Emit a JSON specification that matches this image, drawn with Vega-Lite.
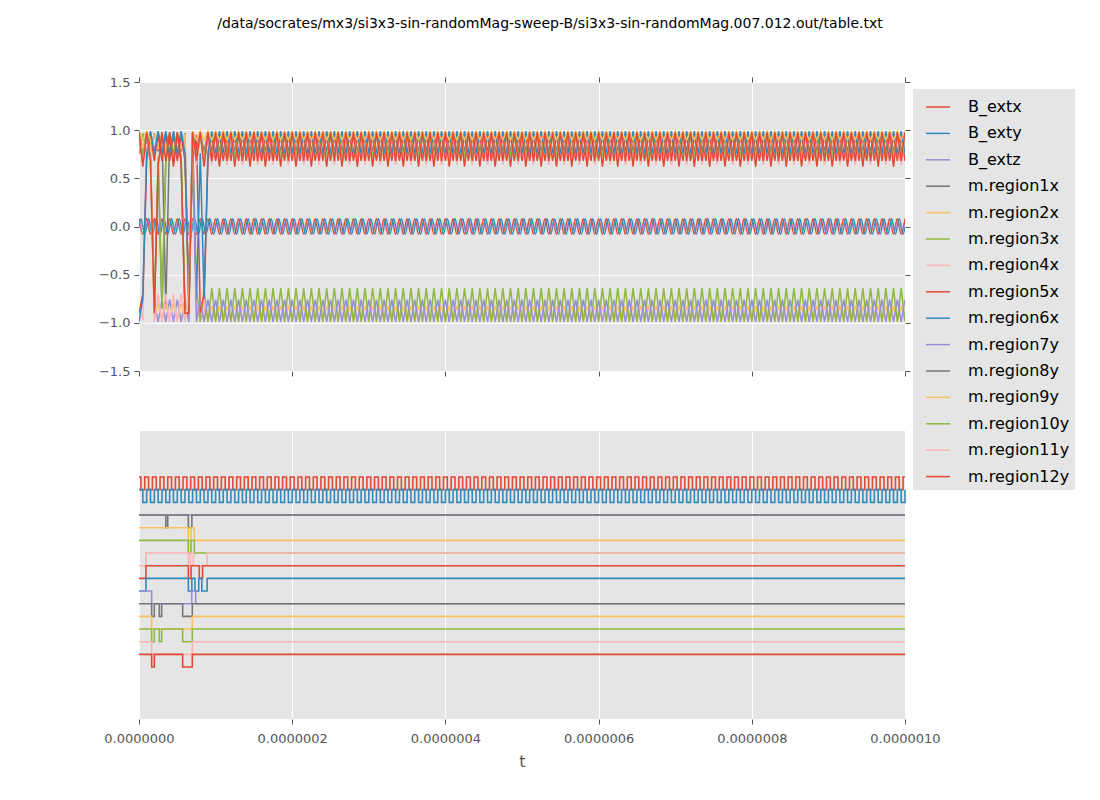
{
"$schema": "https://vega.github.io/schema/vega-lite/v6.json",
"padding": {"left": 98, "top": 17, "right": 5, "bottom": 5},
"background": "white",
"title": {"text": "/data/socrates/mx3/si3x3-sin-randomMag-sweep-B/si3x3-sin-randomMag.007.012.out/table.txt", "anchor": "middle", "frame": "group", "dx": 28, "offset": 45, "fontSize": 14, "font": "DejaVu Sans", "fontWeight": "normal", "color": "black"},
"config": {
 "font": "DejaVu Sans",
 "view": {"fill": "#E5E5E5", "stroke": null},
 "axis": {"domain": false, "tickColor": "#555555", "tickSize": 5, "tickWidth": 1, "labelColor": "#555555", "labelFontSize": 13, "labelFont": "DejaVu Sans", "labelPadding": 4, "labelFlush": false, "gridColor": "#FFFFFF", "gridWidth": 1, "titleFont": "DejaVu Sans", "titleFontSize": 16, "titleFontWeight": "normal", "titleColor": "#555555"},
 "legend": {"title": null, "orient": "none", "legendX": 774, "legendY": 7, "fillColor": "#E5E5E5", "padding": 5, "symbolType": "stroke", "symbolSize": 576, "symbolStrokeWidth": 1.5, "labelFontSize": 16, "labelFont": "DejaVu Sans", "labelColor": "black", "labelOffset": 17, "rowPadding": 5.4, "symbolOffset": 7}
},
"datasets": {
"topB": [
{"s": "B_extx", "t": [0,5,10,15,20,25,30,35,40,45,50,55,60,65,70,75,80,85,90,95,
100,105,110,115,120,125,130,135,140,145,150,155,160,165,170,175,180,185,190,195,
200,205,210,215,220,225,230,235,240,245,250,255,260,265,270,275,280,285,290,295,
300,305,310,315,320,325,330,335,340,345,350,355,360,365,370,375,380,385,390,395,
400,405,410,415,420,425,430,435,440,445,450,455,460,465,470,475,480,485,490,495,
500,505,510,515,520,525,530,535,540,545,550,555,560,565,570,575,580,585,590,595,
600,605,610,615,620,625,630,635,640,645,650,655,660,665,670,675,680,685,690,695,
700,705,710,715,720,725,730,735,740,745,750,755,760,765,770,775,780,785,790,795,
800,805,810,815,820,825,830,835,840,845,850,855,860,865,870,875,880,885,890,895,
900,905,910,915,920,925,930,935,940,945,950,955,960,965,970,975,980,985,990,995,
1000],
"v": [0.08,-0.08,0.08,-0.08,0.08,-0.08,0.08,-0.08,0.08,-0.08,0.08,-0.08,0.08,-0.08,0.08,-0.08,0.08,-0.08,0.08,-0.08,
0.08,-0.08,0.08,-0.08,0.08,-0.08,0.08,-0.08,0.08,-0.08,0.08,-0.08,0.08,-0.08,0.08,-0.08,0.08,-0.08,0.08,-0.08,
0.08,-0.08,0.08,-0.08,0.08,-0.08,0.08,-0.08,0.08,-0.08,0.08,-0.08,0.08,-0.08,0.08,-0.08,0.08,-0.08,0.08,-0.08,
0.08,-0.08,0.08,-0.08,0.08,-0.08,0.08,-0.08,0.08,-0.08,0.08,-0.08,0.08,-0.08,0.08,-0.08,0.08,-0.08,0.08,-0.08,
0.08,-0.08,0.08,-0.08,0.08,-0.08,0.08,-0.08,0.08,-0.08,0.08,-0.08,0.08,-0.08,0.08,-0.08,0.08,-0.08,0.08,-0.08,
0.08,-0.08,0.08,-0.08,0.08,-0.08,0.08,-0.08,0.08,-0.08,0.08,-0.08,0.08,-0.08,0.08,-0.08,0.08,-0.08,0.08,-0.08,
0.08,-0.08,0.08,-0.08,0.08,-0.08,0.08,-0.08,0.08,-0.08,0.08,-0.08,0.08,-0.08,0.08,-0.08,0.08,-0.08,0.08,-0.08,
0.08,-0.08,0.08,-0.08,0.08,-0.08,0.08,-0.08,0.08,-0.08,0.08,-0.08,0.08,-0.08,0.08,-0.08,0.08,-0.08,0.08,-0.08,
0.08,-0.08,0.08,-0.08,0.08,-0.08,0.08,-0.08,0.08,-0.08,0.08,-0.08,0.08,-0.08,0.08,-0.08,0.08,-0.08,0.08,-0.08,
0.08,-0.08,0.08,-0.08,0.08,-0.08,0.08,-0.08,0.08,-0.08,0.08,-0.08,0.08,-0.08,0.08,-0.08,0.08,-0.08,0.08,-0.08,
0.08]},
{"s": "B_exty", "t": [0,2.5,7.5,12.5,17.5,22.5,27.5,32.5,37.5,42.5,47.5,52.5,57.5,62.5,67.5,72.5,77.5,82.5,87.5,92.5,97.5,
102.5,107.5,112.5,117.5,122.5,127.5,132.5,137.5,142.5,147.5,152.5,157.5,162.5,167.5,172.5,177.5,182.5,187.5,192.5,197.5,
202.5,207.5,212.5,217.5,222.5,227.5,232.5,237.5,242.5,247.5,252.5,257.5,262.5,267.5,272.5,277.5,282.5,287.5,292.5,297.5,
302.5,307.5,312.5,317.5,322.5,327.5,332.5,337.5,342.5,347.5,352.5,357.5,362.5,367.5,372.5,377.5,382.5,387.5,392.5,397.5,
402.5,407.5,412.5,417.5,422.5,427.5,432.5,437.5,442.5,447.5,452.5,457.5,462.5,467.5,472.5,477.5,482.5,487.5,492.5,497.5,
502.5,507.5,512.5,517.5,522.5,527.5,532.5,537.5,542.5,547.5,552.5,557.5,562.5,567.5,572.5,577.5,582.5,587.5,592.5,597.5,
602.5,607.5,612.5,617.5,622.5,627.5,632.5,637.5,642.5,647.5,652.5,657.5,662.5,667.5,672.5,677.5,682.5,687.5,692.5,697.5,
702.5,707.5,712.5,717.5,722.5,727.5,732.5,737.5,742.5,747.5,752.5,757.5,762.5,767.5,772.5,777.5,782.5,787.5,792.5,797.5,
802.5,807.5,812.5,817.5,822.5,827.5,832.5,837.5,842.5,847.5,852.5,857.5,862.5,867.5,872.5,877.5,882.5,887.5,892.5,897.5,
902.5,907.5,912.5,917.5,922.5,927.5,932.5,937.5,942.5,947.5,952.5,957.5,962.5,967.5,972.5,977.5,982.5,987.5,992.5,997.5,
1000],
"v": [0,
0.08,-0.08,0.08,-0.08,0.08,-0.08,0.08,-0.08,0.08,-0.08,0.08,-0.08,0.08,-0.08,0.08,-0.08,0.08,-0.08,0.08,-0.08,
0.08,-0.08,0.08,-0.08,0.08,-0.08,0.08,-0.08,0.08,-0.08,0.08,-0.08,0.08,-0.08,0.08,-0.08,0.08,-0.08,0.08,-0.08,
0.08,-0.08,0.08,-0.08,0.08,-0.08,0.08,-0.08,0.08,-0.08,0.08,-0.08,0.08,-0.08,0.08,-0.08,0.08,-0.08,0.08,-0.08,
0.08,-0.08,0.08,-0.08,0.08,-0.08,0.08,-0.08,0.08,-0.08,0.08,-0.08,0.08,-0.08,0.08,-0.08,0.08,-0.08,0.08,-0.08,
0.08,-0.08,0.08,-0.08,0.08,-0.08,0.08,-0.08,0.08,-0.08,0.08,-0.08,0.08,-0.08,0.08,-0.08,0.08,-0.08,0.08,-0.08,
0.08,-0.08,0.08,-0.08,0.08,-0.08,0.08,-0.08,0.08,-0.08,0.08,-0.08,0.08,-0.08,0.08,-0.08,0.08,-0.08,0.08,-0.08,
0.08,-0.08,0.08,-0.08,0.08,-0.08,0.08,-0.08,0.08,-0.08,0.08,-0.08,0.08,-0.08,0.08,-0.08,0.08,-0.08,0.08,-0.08,
0.08,-0.08,0.08,-0.08,0.08,-0.08,0.08,-0.08,0.08,-0.08,0.08,-0.08,0.08,-0.08,0.08,-0.08,0.08,-0.08,0.08,-0.08,
0.08,-0.08,0.08,-0.08,0.08,-0.08,0.08,-0.08,0.08,-0.08,0.08,-0.08,0.08,-0.08,0.08,-0.08,0.08,-0.08,0.08,-0.08,
0.08,-0.08,0.08,-0.08,0.08,-0.08,0.08,-0.08,0.08,-0.08,0.08,-0.08,0.08,-0.08,0.08,-0.08,0.08,-0.08,0.08,-0.08,
0]}
],
"topR": [
{"s": "B_extz", "t": [0,1000], "v": [0,0]},
{"s": "m.region1x", "t": [0,5,10,15,20,25,30,35,40,45,50,55,60,65,70,75,80,85,90,95,
100,105,110,115,120,125,130,135,140,145,150,155,160,165,170,175,180,185,190,195,
200,205,210,215,220,225,230,235,240,245,250,255,260,265,270,275,280,285,290,295,
300,305,310,315,320,325,330,335,340,345,350,355,360,365,370,375,380,385,390,395,
400,405,410,415,420,425,430,435,440,445,450,455,460,465,470,475,480,485,490,495,
500,505,510,515,520,525,530,535,540,545,550,555,560,565,570,575,580,585,590,595,
600,605,610,615,620,625,630,635,640,645,650,655,660,665,670,675,680,685,690,695,
700,705,710,715,720,725,730,735,740,745,750,755,760,765,770,775,780,785,790,795,
800,805,810,815,820,825,830,835,840,845,850,855,860,865,870,875,880,885,890,895,
900,905,910,915,920,925,930,935,940,945,950,955,960,965,970,975,980,985,990,995,
1000],
"v": [0.97,0.78,0.97,0.78,0.97,0.78,0.97,-0.85,0.97,0.78,0.97,0.78,0.97,-0.85,0.97,0.78,0.97,0.78,0.97,0.78,
0.97,0.78,0.97,0.78,0.97,0.78,0.97,0.78,0.97,0.78,0.97,0.78,0.97,0.78,0.97,0.78,0.97,0.78,0.97,0.78,
0.97,0.78,0.97,0.78,0.97,0.78,0.97,0.78,0.97,0.78,0.97,0.78,0.97,0.78,0.97,0.78,0.97,0.78,0.97,0.78,
0.97,0.78,0.97,0.78,0.97,0.78,0.97,0.78,0.97,0.78,0.97,0.78,0.97,0.78,0.97,0.78,0.97,0.78,0.97,0.78,
0.97,0.78,0.97,0.78,0.97,0.78,0.97,0.78,0.97,0.78,0.97,0.78,0.97,0.78,0.97,0.78,0.97,0.78,0.97,0.78,
0.97,0.78,0.97,0.78,0.97,0.78,0.97,0.78,0.97,0.78,0.97,0.78,0.97,0.78,0.97,0.78,0.97,0.78,0.97,0.78,
0.97,0.78,0.97,0.78,0.97,0.78,0.97,0.78,0.97,0.78,0.97,0.78,0.97,0.78,0.97,0.78,0.97,0.78,0.97,0.78,
0.97,0.78,0.97,0.78,0.97,0.78,0.97,0.78,0.97,0.78,0.97,0.78,0.97,0.78,0.97,0.78,0.97,0.78,0.97,0.78,
0.97,0.78,0.97,0.78,0.97,0.78,0.97,0.78,0.97,0.78,0.97,0.78,0.97,0.78,0.97,0.78,0.97,0.78,0.97,0.78,
0.97,0.78,0.97,0.78,0.97,0.78,0.97,0.78,0.97,0.78,0.97,0.78,0.97,0.78,0.97,0.78,0.97,0.78,0.97,0.78,
0.97]},
{"s": "m.region2x", "t": [0,5,10,15,20,25,30,35,40,45,50,55,60,65,70,75,80,85,90,95,
100,105,110,115,120,125,130,135,140,145,150,155,160,165,170,175,180,185,190,195,
200,205,210,215,220,225,230,235,240,245,250,255,260,265,270,275,280,285,290,295,
300,305,310,315,320,325,330,335,340,345,350,355,360,365,370,375,380,385,390,395,
400,405,410,415,420,425,430,435,440,445,450,455,460,465,470,475,480,485,490,495,
500,505,510,515,520,525,530,535,540,545,550,555,560,565,570,575,580,585,590,595,
600,605,610,615,620,625,630,635,640,645,650,655,660,665,670,675,680,685,690,695,
700,705,710,715,720,725,730,735,740,745,750,755,760,765,770,775,780,785,790,795,
800,805,810,815,820,825,830,835,840,845,850,855,860,865,870,875,880,885,890,895,
900,905,910,915,920,925,930,935,940,945,950,955,960,965,970,975,980,985,990,995,
1000],
"v": [0.96,0.8,0.96,0.8,0.96,0.8,0.96,0.8,0.96,0.8,0.96,0.8,0.96,-0.9,0.9,-0.82,-0.98,-0.82,-0.98,-0.82,
-0.98,-0.82,-0.98,-0.82,-0.98,-0.82,-0.98,-0.82,-0.98,-0.82,-0.98,-0.82,-0.98,-0.82,-0.98,-0.82,-0.98,-0.82,-0.98,-0.82,
-0.98,-0.82,-0.98,-0.82,-0.98,-0.82,-0.98,-0.82,-0.98,-0.82,-0.98,-0.82,-0.98,-0.82,-0.98,-0.82,-0.98,-0.82,-0.98,-0.82,
-0.98,-0.82,-0.98,-0.82,-0.98,-0.82,-0.98,-0.82,-0.98,-0.82,-0.98,-0.82,-0.98,-0.82,-0.98,-0.82,-0.98,-0.82,-0.98,-0.82,
-0.98,-0.82,-0.98,-0.82,-0.98,-0.82,-0.98,-0.82,-0.98,-0.82,-0.98,-0.82,-0.98,-0.82,-0.98,-0.82,-0.98,-0.82,-0.98,-0.82,
-0.98,-0.82,-0.98,-0.82,-0.98,-0.82,-0.98,-0.82,-0.98,-0.82,-0.98,-0.82,-0.98,-0.82,-0.98,-0.82,-0.98,-0.82,-0.98,-0.82,
-0.98,-0.82,-0.98,-0.82,-0.98,-0.82,-0.98,-0.82,-0.98,-0.82,-0.98,-0.82,-0.98,-0.82,-0.98,-0.82,-0.98,-0.82,-0.98,-0.82,
-0.98,-0.82,-0.98,-0.82,-0.98,-0.82,-0.98,-0.82,-0.98,-0.82,-0.98,-0.82,-0.98,-0.82,-0.98,-0.82,-0.98,-0.82,-0.98,-0.82,
-0.98,-0.82,-0.98,-0.82,-0.98,-0.82,-0.98,-0.82,-0.98,-0.82,-0.98,-0.82,-0.98,-0.82,-0.98,-0.82,-0.98,-0.82,-0.98,-0.82,
-0.98,-0.82,-0.98,-0.82,-0.98,-0.82,-0.98,-0.82,-0.98,-0.82,-0.98,-0.82,-0.98,-0.82,-0.98,-0.82,-0.98,-0.82,-0.98,-0.82,
-0.98]},
{"s": "m.region3x", "t": [0,5,10,15,20,25,30,35,40,45,50,55,60,65,70,75,80,85,90,95,
100,105,110,115,120,125,130,135,140,145,150,155,160,165,170,175,180,185,190,195,
200,205,210,215,220,225,230,235,240,245,250,255,260,265,270,275,280,285,290,295,
300,305,310,315,320,325,330,335,340,345,350,355,360,365,370,375,380,385,390,395,
400,405,410,415,420,425,430,435,440,445,450,455,460,465,470,475,480,485,490,495,
500,505,510,515,520,525,530,535,540,545,550,555,560,565,570,575,580,585,590,595,
600,605,610,615,620,625,630,635,640,645,650,655,660,665,670,675,680,685,690,695,
700,705,710,715,720,725,730,735,740,745,750,755,760,765,770,775,780,785,790,795,
800,805,810,815,820,825,830,835,840,845,850,855,860,865,870,875,880,885,890,895,
900,905,910,915,920,925,930,935,940,945,950,955,960,965,970,975,980,985,990,995,
1000],
"v": [0.75,0.97,0.75,0.97,0.75,0.97,0.75,0.97,0.75,0.97,0.75,0.97,0.75,-0.9,0.9,-0.64,-0.99,-0.64,-0.99,-0.64,
-0.99,-0.64,-0.99,-0.64,-0.99,-0.64,-0.99,-0.64,-0.99,-0.64,-0.99,-0.64,-0.99,-0.64,-0.99,-0.64,-0.99,-0.64,-0.99,-0.64,
-0.99,-0.64,-0.99,-0.64,-0.99,-0.64,-0.99,-0.64,-0.99,-0.64,-0.99,-0.64,-0.99,-0.64,-0.99,-0.64,-0.99,-0.64,-0.99,-0.64,
-0.99,-0.64,-0.99,-0.64,-0.99,-0.64,-0.99,-0.64,-0.99,-0.64,-0.99,-0.64,-0.99,-0.64,-0.99,-0.64,-0.99,-0.64,-0.99,-0.64,
-0.99,-0.64,-0.99,-0.64,-0.99,-0.64,-0.99,-0.64,-0.99,-0.64,-0.99,-0.64,-0.99,-0.64,-0.99,-0.64,-0.99,-0.64,-0.99,-0.64,
-0.99,-0.64,-0.99,-0.64,-0.99,-0.64,-0.99,-0.64,-0.99,-0.64,-0.99,-0.64,-0.99,-0.64,-0.99,-0.64,-0.99,-0.64,-0.99,-0.64,
-0.99,-0.64,-0.99,-0.64,-0.99,-0.64,-0.99,-0.64,-0.99,-0.64,-0.99,-0.64,-0.99,-0.64,-0.99,-0.64,-0.99,-0.64,-0.99,-0.64,
-0.99,-0.64,-0.99,-0.64,-0.99,-0.64,-0.99,-0.64,-0.99,-0.64,-0.99,-0.64,-0.99,-0.64,-0.99,-0.64,-0.99,-0.64,-0.99,-0.64,
-0.99,-0.64,-0.99,-0.64,-0.99,-0.64,-0.99,-0.64,-0.99,-0.64,-0.99,-0.64,-0.99,-0.64,-0.99,-0.64,-0.99,-0.64,-0.99,-0.64,
-0.99,-0.64,-0.99,-0.64,-0.99,-0.64,-0.99,-0.64,-0.99,-0.64,-0.99,-0.64,-0.99,-0.64,-0.99,-0.64,-0.99,-0.64,-0.99,-0.64,
-0.99]},
{"s": "m.region4x", "t": [0,5,10,15,20,25,30,35,40,45,50,55,60,65,70,75,80,85,90,95,
100,105,110,115,120,125,130,135,140,145,150,155,160,165,170,175,180,185,190,195,
200,205,210,215,220,225,230,235,240,245,250,255,260,265,270,275,280,285,290,295,
300,305,310,315,320,325,330,335,340,345,350,355,360,365,370,375,380,385,390,395,
400,405,410,415,420,425,430,435,440,445,450,455,460,465,470,475,480,485,490,495,
500,505,510,515,520,525,530,535,540,545,550,555,560,565,570,575,580,585,590,595,
600,605,610,615,620,625,630,635,640,645,650,655,660,665,670,675,680,685,690,695,
700,705,710,715,720,725,730,735,740,745,750,755,760,765,770,775,780,785,790,795,
800,805,810,815,820,825,830,835,840,845,850,855,860,865,870,875,880,885,890,895,
900,905,910,915,920,925,930,935,940,945,950,955,960,965,970,975,980,985,990,995,
1000],
"v": [-0.85,-0.97,0.8,0.97,0.8,0.97,0.8,0.97,0.8,0.97,0.8,0.97,0.8,-0.97,0.9,-0.97,-0.85,-0.97,0.8,0.97,
0.8,0.97,0.8,0.97,0.8,0.97,0.8,0.97,0.8,0.97,0.8,0.97,0.8,0.97,0.8,0.97,0.8,0.97,0.8,0.97,
0.8,0.97,0.8,0.97,0.8,0.97,0.8,0.97,0.8,0.97,0.8,0.97,0.8,0.97,0.8,0.97,0.8,0.97,0.8,0.97,
0.8,0.97,0.8,0.97,0.8,0.97,0.8,0.97,0.8,0.97,0.8,0.97,0.8,0.97,0.8,0.97,0.8,0.97,0.8,0.97,
0.8,0.97,0.8,0.97,0.8,0.97,0.8,0.97,0.8,0.97,0.8,0.97,0.8,0.97,0.8,0.97,0.8,0.97,0.8,0.97,
0.8,0.97,0.8,0.97,0.8,0.97,0.8,0.97,0.8,0.97,0.8,0.97,0.8,0.97,0.8,0.97,0.8,0.97,0.8,0.97,
0.8,0.97,0.8,0.97,0.8,0.97,0.8,0.97,0.8,0.97,0.8,0.97,0.8,0.97,0.8,0.97,0.8,0.97,0.8,0.97,
0.8,0.97,0.8,0.97,0.8,0.97,0.8,0.97,0.8,0.97,0.8,0.97,0.8,0.97,0.8,0.97,0.8,0.97,0.8,0.97,
0.8,0.97,0.8,0.97,0.8,0.97,0.8,0.97,0.8,0.97,0.8,0.97,0.8,0.97,0.8,0.97,0.8,0.97,0.8,0.97,
0.8,0.97,0.8,0.97,0.8,0.97,0.8,0.97,0.8,0.97,0.8,0.97,0.8,0.97,0.8,0.97,0.8,0.97,0.8,0.97,
0.8]},
{"s": "m.region5x", "t": [0,5,10,15,20,25,30,35,40,45,50,55,60,65,70,75,80,85,90,95,
100,105,110,115,120,125,130,135,140,145,150,155,160,165,170,175,180,185,190,195,
200,205,210,215,220,225,230,235,240,245,250,255,260,265,270,275,280,285,290,295,
300,305,310,315,320,325,330,335,340,345,350,355,360,365,370,375,380,385,390,395,
400,405,410,415,420,425,430,435,440,445,450,455,460,465,470,475,480,485,490,495,
500,505,510,515,520,525,530,535,540,545,550,555,560,565,570,575,580,585,590,595,
600,605,610,615,620,625,630,635,640,645,650,655,660,665,670,675,680,685,690,695,
700,705,710,715,720,725,730,735,740,745,750,755,760,765,770,775,780,785,790,795,
800,805,810,815,820,825,830,835,840,845,850,855,860,865,870,875,880,885,890,895,
900,905,910,915,920,925,930,935,940,945,950,955,960,965,970,975,980,985,990,995,
1000],
"v": [-0.9,-0.7,0.68,0.95,0.68,0.95,0.68,0.95,0.68,0.95,0.68,0.95,0.68,-0.7,0.68,0.95,-0.9,-0.7,0.68,0.95,
0.68,0.95,0.68,0.95,0.68,0.95,0.68,0.95,0.68,0.95,0.68,0.95,0.68,0.95,0.68,0.95,0.68,0.95,0.68,0.95,
0.68,0.95,0.68,0.95,0.68,0.95,0.68,0.95,0.68,0.95,0.68,0.95,0.68,0.95,0.68,0.95,0.68,0.95,0.68,0.95,
0.68,0.95,0.68,0.95,0.68,0.95,0.68,0.95,0.68,0.95,0.68,0.95,0.68,0.95,0.68,0.95,0.68,0.95,0.68,0.95,
0.68,0.95,0.68,0.95,0.68,0.95,0.68,0.95,0.68,0.95,0.68,0.95,0.68,0.95,0.68,0.95,0.68,0.95,0.68,0.95,
0.68,0.95,0.68,0.95,0.68,0.95,0.68,0.95,0.68,0.95,0.68,0.95,0.68,0.95,0.68,0.95,0.68,0.95,0.68,0.95,
0.68,0.95,0.68,0.95,0.68,0.95,0.68,0.95,0.68,0.95,0.68,0.95,0.68,0.95,0.68,0.95,0.68,0.95,0.68,0.95,
0.68,0.95,0.68,0.95,0.68,0.95,0.68,0.95,0.68,0.95,0.68,0.95,0.68,0.95,0.68,0.95,0.68,0.95,0.68,0.95,
0.68,0.95,0.68,0.95,0.68,0.95,0.68,0.95,0.68,0.95,0.68,0.95,0.68,0.95,0.68,0.95,0.68,0.95,0.68,0.95,
0.68,0.95,0.68,0.95,0.68,0.95,0.68,0.95,0.68,0.95,0.68,0.95,0.68,0.95,0.68,0.95,0.68,0.95,0.68,0.95,
0.68]},
{"s": "m.region6x", "t": [0,5,10,15,20,25,30,35,40,45,50,55,60,65,70,75,80,85,90,95,
100,105,110,115,120,125,130,135,140,145,150,155,160,165,170,175,180,185,190,195,
200,205,210,215,220,225,230,235,240,245,250,255,260,265,270,275,280,285,290,295,
300,305,310,315,320,325,330,335,340,345,350,355,360,365,370,375,380,385,390,395,
400,405,410,415,420,425,430,435,440,445,450,455,460,465,470,475,480,485,490,495,
500,505,510,515,520,525,530,535,540,545,550,555,560,565,570,575,580,585,590,595,
600,605,610,615,620,625,630,635,640,645,650,655,660,665,670,675,680,685,690,695,
700,705,710,715,720,725,730,735,740,745,750,755,760,765,770,775,780,785,790,795,
800,805,810,815,820,825,830,835,840,845,850,855,860,865,870,875,880,885,890,895,
900,905,910,915,920,925,930,935,940,945,950,955,960,965,970,975,980,985,990,995,
1000],
"v": [-0.99,-0.75,0.76,0.99,0.76,0.99,0.76,0.99,0.76,0.99,0.76,0.99,0.76,-0.75,0.76,-0.75,0.76,-0.75,0.76,0.99,
0.76,0.99,0.76,0.99,0.76,0.99,0.76,0.99,0.76,0.99,0.76,0.99,0.76,0.99,0.76,0.99,0.76,0.99,0.76,0.99,
0.76,0.99,0.76,0.99,0.76,0.99,0.76,0.99,0.76,0.99,0.76,0.99,0.76,0.99,0.76,0.99,0.76,0.99,0.76,0.99,
0.76,0.99,0.76,0.99,0.76,0.99,0.76,0.99,0.76,0.99,0.76,0.99,0.76,0.99,0.76,0.99,0.76,0.99,0.76,0.99,
0.76,0.99,0.76,0.99,0.76,0.99,0.76,0.99,0.76,0.99,0.76,0.99,0.76,0.99,0.76,0.99,0.76,0.99,0.76,0.99,
0.76,0.99,0.76,0.99,0.76,0.99,0.76,0.99,0.76,0.99,0.76,0.99,0.76,0.99,0.76,0.99,0.76,0.99,0.76,0.99,
0.76,0.99,0.76,0.99,0.76,0.99,0.76,0.99,0.76,0.99,0.76,0.99,0.76,0.99,0.76,0.99,0.76,0.99,0.76,0.99,
0.76,0.99,0.76,0.99,0.76,0.99,0.76,0.99,0.76,0.99,0.76,0.99,0.76,0.99,0.76,0.99,0.76,0.99,0.76,0.99,
0.76,0.99,0.76,0.99,0.76,0.99,0.76,0.99,0.76,0.99,0.76,0.99,0.76,0.99,0.76,0.99,0.76,0.99,0.76,0.99,
0.76,0.99,0.76,0.99,0.76,0.99,0.76,0.99,0.76,0.99,0.76,0.99,0.76,0.99,0.76,0.99,0.76,0.99,0.76,0.99,
0.76]},
{"s": "m.region7y", "t": [0,5,10,15,20,25,30,35,40,45,50,55,60,65,70,75,80,85,90,95,
100,105,110,115,120,125,130,135,140,145,150,155,160,165,170,175,180,185,190,195,
200,205,210,215,220,225,230,235,240,245,250,255,260,265,270,275,280,285,290,295,
300,305,310,315,320,325,330,335,340,345,350,355,360,365,370,375,380,385,390,395,
400,405,410,415,420,425,430,435,440,445,450,455,460,465,470,475,480,485,490,495,
500,505,510,515,520,525,530,535,540,545,550,555,560,565,570,575,580,585,590,595,
600,605,610,615,620,625,630,635,640,645,650,655,660,665,670,675,680,685,690,695,
700,705,710,715,720,725,730,735,740,745,750,755,760,765,770,775,780,785,790,795,
800,805,810,815,820,825,830,835,840,845,850,855,860,865,870,875,880,885,890,895,
900,905,910,915,920,925,930,935,940,945,950,955,960,965,970,975,980,985,990,995,
1000],
"v": [0.9,0.75,0.9,0.75,-0.76,-0.99,-0.76,-0.99,-0.76,-0.99,-0.76,-0.99,-0.76,-0.99,0.9,-0.99,-0.76,-0.99,-0.76,-0.99,
-0.76,-0.99,-0.76,-0.99,-0.76,-0.99,-0.76,-0.99,-0.76,-0.99,-0.76,-0.99,-0.76,-0.99,-0.76,-0.99,-0.76,-0.99,-0.76,-0.99,
-0.76,-0.99,-0.76,-0.99,-0.76,-0.99,-0.76,-0.99,-0.76,-0.99,-0.76,-0.99,-0.76,-0.99,-0.76,-0.99,-0.76,-0.99,-0.76,-0.99,
-0.76,-0.99,-0.76,-0.99,-0.76,-0.99,-0.76,-0.99,-0.76,-0.99,-0.76,-0.99,-0.76,-0.99,-0.76,-0.99,-0.76,-0.99,-0.76,-0.99,
-0.76,-0.99,-0.76,-0.99,-0.76,-0.99,-0.76,-0.99,-0.76,-0.99,-0.76,-0.99,-0.76,-0.99,-0.76,-0.99,-0.76,-0.99,-0.76,-0.99,
-0.76,-0.99,-0.76,-0.99,-0.76,-0.99,-0.76,-0.99,-0.76,-0.99,-0.76,-0.99,-0.76,-0.99,-0.76,-0.99,-0.76,-0.99,-0.76,-0.99,
-0.76,-0.99,-0.76,-0.99,-0.76,-0.99,-0.76,-0.99,-0.76,-0.99,-0.76,-0.99,-0.76,-0.99,-0.76,-0.99,-0.76,-0.99,-0.76,-0.99,
-0.76,-0.99,-0.76,-0.99,-0.76,-0.99,-0.76,-0.99,-0.76,-0.99,-0.76,-0.99,-0.76,-0.99,-0.76,-0.99,-0.76,-0.99,-0.76,-0.99,
-0.76,-0.99,-0.76,-0.99,-0.76,-0.99,-0.76,-0.99,-0.76,-0.99,-0.76,-0.99,-0.76,-0.99,-0.76,-0.99,-0.76,-0.99,-0.76,-0.99,
-0.76,-0.99,-0.76,-0.99,-0.76,-0.99,-0.76,-0.99,-0.76,-0.99,-0.76,-0.99,-0.76,-0.99,-0.76,-0.99,-0.76,-0.99,-0.76,-0.99,
-0.76]},
{"s": "m.region8y", "t": [0,5,10,15,20,25,30,35,40,45,50,55,60,65,70,75,80,85,90,95,
100,105,110,115,120,125,130,135,140,145,150,155,160,165,170,175,180,185,190,195,
200,205,210,215,220,225,230,235,240,245,250,255,260,265,270,275,280,285,290,295,
300,305,310,315,320,325,330,335,340,345,350,355,360,365,370,375,380,385,390,395,
400,405,410,415,420,425,430,435,440,445,450,455,460,465,470,475,480,485,490,495,
500,505,510,515,520,525,530,535,540,545,550,555,560,565,570,575,580,585,590,595,
600,605,610,615,620,625,630,635,640,645,650,655,660,665,670,675,680,685,690,695,
700,705,710,715,720,725,730,735,740,745,750,755,760,765,770,775,780,785,790,795,
800,805,810,815,820,825,830,835,840,845,850,855,860,865,870,875,880,885,890,895,
900,905,910,915,920,925,930,935,940,945,950,955,960,965,970,975,980,985,990,995,
1000],
"v": [0.96,0.66,0.96,0.66,-0.85,0.66,-0.85,0.66,0.96,0.66,0.96,0.66,-0.85,-0.85,0.96,0.66,0.96,0.66,0.96,0.66,
0.96,0.66,0.96,0.66,0.96,0.66,0.96,0.66,0.96,0.66,0.96,0.66,0.96,0.66,0.96,0.66,0.96,0.66,0.96,0.66,
0.96,0.66,0.96,0.66,0.96,0.66,0.96,0.66,0.96,0.66,0.96,0.66,0.96,0.66,0.96,0.66,0.96,0.66,0.96,0.66,
0.96,0.66,0.96,0.66,0.96,0.66,0.96,0.66,0.96,0.66,0.96,0.66,0.96,0.66,0.96,0.66,0.96,0.66,0.96,0.66,
0.96,0.66,0.96,0.66,0.96,0.66,0.96,0.66,0.96,0.66,0.96,0.66,0.96,0.66,0.96,0.66,0.96,0.66,0.96,0.66,
0.96,0.66,0.96,0.66,0.96,0.66,0.96,0.66,0.96,0.66,0.96,0.66,0.96,0.66,0.96,0.66,0.96,0.66,0.96,0.66,
0.96,0.66,0.96,0.66,0.96,0.66,0.96,0.66,0.96,0.66,0.96,0.66,0.96,0.66,0.96,0.66,0.96,0.66,0.96,0.66,
0.96,0.66,0.96,0.66,0.96,0.66,0.96,0.66,0.96,0.66,0.96,0.66,0.96,0.66,0.96,0.66,0.96,0.66,0.96,0.66,
0.96,0.66,0.96,0.66,0.96,0.66,0.96,0.66,0.96,0.66,0.96,0.66,0.96,0.66,0.96,0.66,0.96,0.66,0.96,0.66,
0.96,0.66,0.96,0.66,0.96,0.66,0.96,0.66,0.96,0.66,0.96,0.66,0.96,0.66,0.96,0.66,0.96,0.66,0.96,0.66,
0.96]},
{"s": "m.region9y", "t": [0,5,10,15,20,25,30,35,40,45,50,55,60,65,70,75,80,85,90,95,
100,105,110,115,120,125,130,135,140,145,150,155,160,165,170,175,180,185,190,195,
200,205,210,215,220,225,230,235,240,245,250,255,260,265,270,275,280,285,290,295,
300,305,310,315,320,325,330,335,340,345,350,355,360,365,370,375,380,385,390,395,
400,405,410,415,420,425,430,435,440,445,450,455,460,465,470,475,480,485,490,495,
500,505,510,515,520,525,530,535,540,545,550,555,560,565,570,575,580,585,590,595,
600,605,610,615,620,625,630,635,640,645,650,655,660,665,670,675,680,685,690,695,
700,705,710,715,720,725,730,735,740,745,750,755,760,765,770,775,780,785,790,795,
800,805,810,815,820,825,830,835,840,845,850,855,860,865,870,875,880,885,890,895,
900,905,910,915,920,925,930,935,940,945,950,955,960,965,970,975,980,985,990,995,
1000],
"v": [0.99,0.9,0.99,0.9,-0.97,-0.8,-0.97,-0.8,-0.97,-0.8,-0.97,-0.8,-0.97,-0.8,0.99,0.9,0.99,0.9,0.99,0.9,
0.99,0.9,0.99,0.9,0.99,0.9,0.99,0.9,0.99,0.9,0.99,0.9,0.99,0.9,0.99,0.9,0.99,0.9,0.99,0.9,
0.99,0.9,0.99,0.9,0.99,0.9,0.99,0.9,0.99,0.9,0.99,0.9,0.99,0.9,0.99,0.9,0.99,0.9,0.99,0.9,
0.99,0.9,0.99,0.9,0.99,0.9,0.99,0.9,0.99,0.9,0.99,0.9,0.99,0.9,0.99,0.9,0.99,0.9,0.99,0.9,
0.99,0.9,0.99,0.9,0.99,0.9,0.99,0.9,0.99,0.9,0.99,0.9,0.99,0.9,0.99,0.9,0.99,0.9,0.99,0.9,
0.99,0.9,0.99,0.9,0.99,0.9,0.99,0.9,0.99,0.9,0.99,0.9,0.99,0.9,0.99,0.9,0.99,0.9,0.99,0.9,
0.99,0.9,0.99,0.9,0.99,0.9,0.99,0.9,0.99,0.9,0.99,0.9,0.99,0.9,0.99,0.9,0.99,0.9,0.99,0.9,
0.99,0.9,0.99,0.9,0.99,0.9,0.99,0.9,0.99,0.9,0.99,0.9,0.99,0.9,0.99,0.9,0.99,0.9,0.99,0.9,
0.99,0.9,0.99,0.9,0.99,0.9,0.99,0.9,0.99,0.9,0.99,0.9,0.99,0.9,0.99,0.9,0.99,0.9,0.99,0.9,
0.99,0.9,0.99,0.9,0.99,0.9,0.99,0.9,0.99,0.9,0.99,0.9,0.99,0.9,0.99,0.9,0.99,0.9,0.99,0.9,
0.99]},
{"s": "m.region10y", "t": [0,5,10,15,20,25,30,35,40,45,50,55,60,65,70,75,80,85,90,95,
100,105,110,115,120,125,130,135,140,145,150,155,160,165,170,175,180,185,190,195,
200,205,210,215,220,225,230,235,240,245,250,255,260,265,270,275,280,285,290,295,
300,305,310,315,320,325,330,335,340,345,350,355,360,365,370,375,380,385,390,395,
400,405,410,415,420,425,430,435,440,445,450,455,460,465,470,475,480,485,490,495,
500,505,510,515,520,525,530,535,540,545,550,555,560,565,570,575,580,585,590,595,
600,605,610,615,620,625,630,635,640,645,650,655,660,665,670,675,680,685,690,695,
700,705,710,715,720,725,730,735,740,745,750,755,760,765,770,775,780,785,790,795,
800,805,810,815,820,825,830,835,840,845,850,855,860,865,870,875,880,885,890,895,
900,905,910,915,920,925,930,935,940,945,950,955,960,965,970,975,980,985,990,995,
1000],
"v": [0.97,0.72,0.97,0.72,-0.85,0.72,-0.85,0.72,0.97,0.72,0.97,0.72,-0.85,-0.85,0.97,0.72,0.97,0.72,0.97,0.72,
0.97,0.72,0.97,0.72,0.97,0.72,0.97,0.72,0.97,0.72,0.97,0.72,0.97,0.72,0.97,0.72,0.97,0.72,0.97,0.72,
0.97,0.72,0.97,0.72,0.97,0.72,0.97,0.72,0.97,0.72,0.97,0.72,0.97,0.72,0.97,0.72,0.97,0.72,0.97,0.72,
0.97,0.72,0.97,0.72,0.97,0.72,0.97,0.72,0.97,0.72,0.97,0.72,0.97,0.72,0.97,0.72,0.97,0.72,0.97,0.72,
0.97,0.72,0.97,0.72,0.97,0.72,0.97,0.72,0.97,0.72,0.97,0.72,0.97,0.72,0.97,0.72,0.97,0.72,0.97,0.72,
0.97,0.72,0.97,0.72,0.97,0.72,0.97,0.72,0.97,0.72,0.97,0.72,0.97,0.72,0.97,0.72,0.97,0.72,0.97,0.72,
0.97,0.72,0.97,0.72,0.97,0.72,0.97,0.72,0.97,0.72,0.97,0.72,0.97,0.72,0.97,0.72,0.97,0.72,0.97,0.72,
0.97,0.72,0.97,0.72,0.97,0.72,0.97,0.72,0.97,0.72,0.97,0.72,0.97,0.72,0.97,0.72,0.97,0.72,0.97,0.72,
0.97,0.72,0.97,0.72,0.97,0.72,0.97,0.72,0.97,0.72,0.97,0.72,0.97,0.72,0.97,0.72,0.97,0.72,0.97,0.72,
0.97,0.72,0.97,0.72,0.97,0.72,0.97,0.72,0.97,0.72,0.97,0.72,0.97,0.72,0.97,0.72,0.97,0.72,0.97,0.72,
0.97]},
{"s": "m.region11y", "t": [0,5,10,15,20,25,30,35,40,45,50,55,60,65,70,75,80,85,90,95,
100,105,110,115,120,125,130,135,140,145,150,155,160,165,170,175,180,185,190,195,
200,205,210,215,220,225,230,235,240,245,250,255,260,265,270,275,280,285,290,295,
300,305,310,315,320,325,330,335,340,345,350,355,360,365,370,375,380,385,390,395,
400,405,410,415,420,425,430,435,440,445,450,455,460,465,470,475,480,485,490,495,
500,505,510,515,520,525,530,535,540,545,550,555,560,565,570,575,580,585,590,595,
600,605,610,615,620,625,630,635,640,645,650,655,660,665,670,675,680,685,690,695,
700,705,710,715,720,725,730,735,740,745,750,755,760,765,770,775,780,785,790,795,
800,805,810,815,820,825,830,835,840,845,850,855,860,865,870,875,880,885,890,895,
900,905,910,915,920,925,930,935,940,945,950,955,960,965,970,975,980,985,990,995,
1000],
"v": [0.97,0.64,0.97,0.64,-0.99,-0.7,-0.99,-0.7,-0.99,-0.7,-0.99,-0.7,-0.99,-0.7,0.97,0.64,0.97,0.64,0.97,0.64,
0.97,0.64,0.97,0.64,0.97,0.64,0.97,0.64,0.97,0.64,0.97,0.64,0.97,0.64,0.97,0.64,0.97,0.64,0.97,0.64,
0.97,0.64,0.97,0.64,0.97,0.64,0.97,0.64,0.97,0.64,0.97,0.64,0.97,0.64,0.97,0.64,0.97,0.64,0.97,0.64,
0.97,0.64,0.97,0.64,0.97,0.64,0.97,0.64,0.97,0.64,0.97,0.64,0.97,0.64,0.97,0.64,0.97,0.64,0.97,0.64,
0.97,0.64,0.97,0.64,0.97,0.64,0.97,0.64,0.97,0.64,0.97,0.64,0.97,0.64,0.97,0.64,0.97,0.64,0.97,0.64,
0.97,0.64,0.97,0.64,0.97,0.64,0.97,0.64,0.97,0.64,0.97,0.64,0.97,0.64,0.97,0.64,0.97,0.64,0.97,0.64,
0.97,0.64,0.97,0.64,0.97,0.64,0.97,0.64,0.97,0.64,0.97,0.64,0.97,0.64,0.97,0.64,0.97,0.64,0.97,0.64,
0.97,0.64,0.97,0.64,0.97,0.64,0.97,0.64,0.97,0.64,0.97,0.64,0.97,0.64,0.97,0.64,0.97,0.64,0.97,0.64,
0.97,0.64,0.97,0.64,0.97,0.64,0.97,0.64,0.97,0.64,0.97,0.64,0.97,0.64,0.97,0.64,0.97,0.64,0.97,0.64,
0.97,0.64,0.97,0.64,0.97,0.64,0.97,0.64,0.97,0.64,0.97,0.64,0.97,0.64,0.97,0.64,0.97,0.64,0.97,0.64,
0.97]},
{"s": "m.region12y", "t": [0,5,10,15,20,25,30,35,40,45,50,55,60,65,70,75,80,85,90,95,
100,105,110,115,120,125,130,135,140,145,150,155,160,165,170,175,180,185,190,195,
200,205,210,215,220,225,230,235,240,245,250,255,260,265,270,275,280,285,290,295,
300,305,310,315,320,325,330,335,340,345,350,355,360,365,370,375,380,385,390,395,
400,405,410,415,420,425,430,435,440,445,450,455,460,465,470,475,480,485,490,495,
500,505,510,515,520,525,530,535,540,545,550,555,560,565,570,575,580,585,590,595,
600,605,610,615,620,625,630,635,640,645,650,655,660,665,670,675,680,685,690,695,
700,705,710,715,720,725,730,735,740,745,750,755,760,765,770,775,780,785,790,795,
800,805,810,815,820,825,830,835,840,845,850,855,860,865,870,875,880,885,890,895,
900,905,910,915,920,925,930,935,940,945,950,955,960,965,970,975,980,985,990,995,
1000],
"v": [0.98,0.62,0.98,0.68,-0.9,0.62,0.98,0.68,0.98,0.62,0.98,0.68,-0.9,-0.9,0.98,0.68,0.98,0.62,0.98,0.68,
0.98,0.62,0.98,0.68,0.98,0.62,0.98,0.68,0.98,0.62,0.98,0.68,0.98,0.62,0.98,0.68,0.98,0.62,0.98,0.68,
0.98,0.62,0.98,0.68,0.98,0.62,0.98,0.68,0.98,0.62,0.98,0.68,0.98,0.62,0.98,0.68,0.98,0.62,0.98,0.68,
0.98,0.62,0.98,0.68,0.98,0.62,0.98,0.68,0.98,0.62,0.98,0.68,0.98,0.62,0.98,0.68,0.98,0.62,0.98,0.68,
0.98,0.62,0.98,0.68,0.98,0.62,0.98,0.68,0.98,0.62,0.98,0.68,0.98,0.62,0.98,0.68,0.98,0.62,0.98,0.68,
0.98,0.62,0.98,0.68,0.98,0.62,0.98,0.68,0.98,0.62,0.98,0.68,0.98,0.62,0.98,0.68,0.98,0.62,0.98,0.68,
0.98,0.62,0.98,0.68,0.98,0.62,0.98,0.68,0.98,0.62,0.98,0.68,0.98,0.62,0.98,0.68,0.98,0.62,0.98,0.68,
0.98,0.62,0.98,0.68,0.98,0.62,0.98,0.68,0.98,0.62,0.98,0.68,0.98,0.62,0.98,0.68,0.98,0.62,0.98,0.68,
0.98,0.62,0.98,0.68,0.98,0.62,0.98,0.68,0.98,0.62,0.98,0.68,0.98,0.62,0.98,0.68,0.98,0.62,0.98,0.68,
0.98,0.62,0.98,0.68,0.98,0.62,0.98,0.68,0.98,0.62,0.98,0.68,0.98,0.62,0.98,0.68,0.98,0.62,0.98,0.68,
0.98]}
],
"bot": [
{"s": "B_extx", "t": [0,2.5,7.5,12.5,17.5,22.5,27.5,32.5,37.5,42.5,47.5,52.5,57.5,62.5,67.5,72.5,77.5,82.5,87.5,92.5,97.5,
102.5,107.5,112.5,117.5,122.5,127.5,132.5,137.5,142.5,147.5,152.5,157.5,162.5,167.5,172.5,177.5,182.5,187.5,192.5,197.5,
202.5,207.5,212.5,217.5,222.5,227.5,232.5,237.5,242.5,247.5,252.5,257.5,262.5,267.5,272.5,277.5,282.5,287.5,292.5,297.5,
302.5,307.5,312.5,317.5,322.5,327.5,332.5,337.5,342.5,347.5,352.5,357.5,362.5,367.5,372.5,377.5,382.5,387.5,392.5,397.5,
402.5,407.5,412.5,417.5,422.5,427.5,432.5,437.5,442.5,447.5,452.5,457.5,462.5,467.5,472.5,477.5,482.5,487.5,492.5,497.5,
502.5,507.5,512.5,517.5,522.5,527.5,532.5,537.5,542.5,547.5,552.5,557.5,562.5,567.5,572.5,577.5,582.5,587.5,592.5,597.5,
602.5,607.5,612.5,617.5,622.5,627.5,632.5,637.5,642.5,647.5,652.5,657.5,662.5,667.5,672.5,677.5,682.5,687.5,692.5,697.5,
702.5,707.5,712.5,717.5,722.5,727.5,732.5,737.5,742.5,747.5,752.5,757.5,762.5,767.5,772.5,777.5,782.5,787.5,792.5,797.5,
802.5,807.5,812.5,817.5,822.5,827.5,832.5,837.5,842.5,847.5,852.5,857.5,862.5,867.5,872.5,877.5,882.5,887.5,892.5,897.5,
902.5,907.5,912.5,917.5,922.5,927.5,932.5,937.5,942.5,947.5,952.5,957.5,962.5,967.5,972.5,977.5,982.5,987.5,992.5,997.5,
1000],
"level": [1,
0,1,0,1,0,1,0,1,0,1,0,1,0,1,0,1,0,1,0,1,
0,1,0,1,0,1,0,1,0,1,0,1,0,1,0,1,0,1,0,1,
0,1,0,1,0,1,0,1,0,1,0,1,0,1,0,1,0,1,0,1,
0,1,0,1,0,1,0,1,0,1,0,1,0,1,0,1,0,1,0,1,
0,1,0,1,0,1,0,1,0,1,0,1,0,1,0,1,0,1,0,1,
0,1,0,1,0,1,0,1,0,1,0,1,0,1,0,1,0,1,0,1,
0,1,0,1,0,1,0,1,0,1,0,1,0,1,0,1,0,1,0,1,
0,1,0,1,0,1,0,1,0,1,0,1,0,1,0,1,0,1,0,1,
0,1,0,1,0,1,0,1,0,1,0,1,0,1,0,1,0,1,0,1,
0,1,0,1,0,1,0,1,0,1,0,1,0,1,0,1,0,1,0,1,
1]},
{"s": "B_exty", "t": [0,5,10,15,20,25,30,35,40,45,50,55,60,65,70,75,80,85,90,95,
100,105,110,115,120,125,130,135,140,145,150,155,160,165,170,175,180,185,190,195,
200,205,210,215,220,225,230,235,240,245,250,255,260,265,270,275,280,285,290,295,
300,305,310,315,320,325,330,335,340,345,350,355,360,365,370,375,380,385,390,395,
400,405,410,415,420,425,430,435,440,445,450,455,460,465,470,475,480,485,490,495,
500,505,510,515,520,525,530,535,540,545,550,555,560,565,570,575,580,585,590,595,
600,605,610,615,620,625,630,635,640,645,650,655,660,665,670,675,680,685,690,695,
700,705,710,715,720,725,730,735,740,745,750,755,760,765,770,775,780,785,790,795,
800,805,810,815,820,825,830,835,840,845,850,855,860,865,870,875,880,885,890,895,
900,905,910,915,920,925,930,935,940,945,950,955,960,965,970,975,980,985,990,995,
1000],
"level": [0,-1,0,-1,0,-1,0,-1,0,-1,0,-1,0,-1,0,-1,0,-1,0,-1,
0,-1,0,-1,0,-1,0,-1,0,-1,0,-1,0,-1,0,-1,0,-1,0,-1,
0,-1,0,-1,0,-1,0,-1,0,-1,0,-1,0,-1,0,-1,0,-1,0,-1,
0,-1,0,-1,0,-1,0,-1,0,-1,0,-1,0,-1,0,-1,0,-1,0,-1,
0,-1,0,-1,0,-1,0,-1,0,-1,0,-1,0,-1,0,-1,0,-1,0,-1,
0,-1,0,-1,0,-1,0,-1,0,-1,0,-1,0,-1,0,-1,0,-1,0,-1,
0,-1,0,-1,0,-1,0,-1,0,-1,0,-1,0,-1,0,-1,0,-1,0,-1,
0,-1,0,-1,0,-1,0,-1,0,-1,0,-1,0,-1,0,-1,0,-1,0,-1,
0,-1,0,-1,0,-1,0,-1,0,-1,0,-1,0,-1,0,-1,0,-1,0,-1,
0,-1,0,-1,0,-1,0,-1,0,-1,0,-1,0,-1,0,-1,0,-1,0,-1,
0]},
{"s": "B_extz", "t": [0,1000], "level": [-2,-2]},
{"s": "m.region1x", "t": [0,35,37.5,64.4,69,1000], "level": [-2,-3,-2,-3,-2,-2]},
{"s": "m.region2x", "t": [0,64.4,67.9,72.2,1000], "level": [-3,-4,-3,-4,-4]},
{"s": "m.region3x", "t": [0,64.4,67.9,72.2,1000], "level": [-4,-5,-4,-5,-5]},
{"s": "m.region4x", "t": [0,9.1,64.4,67,71,89,1000], "level": [-6,-5,-6,-5,-6,-5,-5]},
{"s": "m.region5x", "t": [0,9.1,64.4,68,78.7,83,1000], "level": [-7,-6,-7,-6,-7,-6,-6]},
{"s": "m.region6x", "t": [0,9.1,64.4,69,73,78,82,89,1000], "level": [-8,-7,-8,-7,-8,-7,-8,-7,-7]},
{"s": "m.region7y", "t": [0,16.5,68.8,74,1000], "level": [-8,-9,-8,-9,-9]},
{"s": "m.region8y", "t": [0,16.5,20,26.5,29.6,57,69.6,1000], "level": [-9,-10,-9,-10,-9,-10,-9,-9]},
{"s": "m.region9y", "t": [0,16.5,69.6,1000], "level": [-10,-11,-10,-10]},
{"s": "m.region10y", "t": [0,16.5,20,26.5,29.6,57,69.6,1000], "level": [-11,-12,-11,-12,-11,-12,-11,-11]},
{"s": "m.region11y", "t": [0,16.5,69.6,1000], "level": [-12,-13,-12,-12]},
{"s": "m.region12y", "t": [0,16.5,20,57,69.6,1000], "level": [-13,-14,-13,-14,-13,-13]}
]
},
"spacing": 60,
"bounds": "flush",
"vconcat": [
{
 "width": 766, "height": 289,
 "layer": [
  {
   "data": {"name": "topB"},
   "transform": [{"flatten": ["t", "v"]}],
   "mark": {"type": "line", "interpolate": "monotone", "strokeWidth": 1.5, "clip": true},
   "encoding": {
    "x": {"field": "t", "type": "quantitative", "scale": {"domain": [0, 1000], "nice": false, "zero": false}, "axis": {"orient": "bottom", "values": [0, 200, 400, 600, 800, 1000], "labels": false, "grid": true, "title": null}},
    "y": {"field": "v", "type": "quantitative", "scale": {"domain": [-1.5, 1.5], "nice": false}, "axis": {"orient": "left", "values": [-1.5, -1, -0.5, 0, 0.5, 1, 1.5], "format": ".1f", "grid": true, "title": null}},
    "color": {"field": "s", "type": "nominal", "scale": {"domain": ["B_extx","B_exty","B_extz","m.region1x","m.region2x","m.region3x","m.region4x","m.region5x","m.region6x","m.region7y","m.region8y","m.region9y","m.region10y","m.region11y","m.region12y"], "range": ["#E24A33","#348ABD","#988ED5","#777777","#FBC15E","#8EBA42","#FFB5B8","#E24A33","#348ABD","#988ED5","#777777","#FBC15E","#8EBA42","#FFB5B8","#E24A33"]}}
   }
  },
  {
   "data": {"name": "topR"},
   "transform": [{"flatten": ["t", "v"]}],
   "mark": {"type": "line", "strokeWidth": 1.5, "clip": true},
   "encoding": {
    "x": {"field": "t", "type": "quantitative", "scale": {"domain": [0, 1000], "nice": false, "zero": false}, "axis": {"orient": "top", "values": [0, 200, 400, 600, 800, 1000], "labels": false, "grid": false, "title": null}},
    "y": {"field": "v", "type": "quantitative", "scale": {"domain": [-1.5, 1.5], "nice": false}, "axis": {"orient": "right", "values": [-1.5, -1, -0.5, 0, 0.5, 1, 1.5], "labels": false, "grid": false, "title": null}},
    "color": {"field": "s", "type": "nominal"}
   }
  }
 ],
 "resolve": {"axis": {"x": "independent", "y": "independent"}}
},
{
 "width": 766, "height": 288,
 "data": {"name": "bot"},
 "transform": [{"flatten": ["t", "level"]}],
 "mark": {"type": "line", "interpolate": "step-after", "strokeWidth": 1.6},
 "encoding": {
  "x": {"field": "t", "type": "quantitative", "scale": {"domain": [0, 1000], "nice": false, "zero": false}, "axis": {"values": [0, 200, 400, 600, 800, 1000], "labelExpr": "format(datum.value/1e9, '.7f')", "labelPadding": 8, "grid": true, "title": "t", "titlePadding": 8}},
  "y": {"field": "level", "type": "quantitative", "scale": {"domain": [-18.1, 4.63], "nice": false, "zero": false}, "axis": null},
  "color": {"field": "s", "type": "nominal"}
 }
}
]
}
